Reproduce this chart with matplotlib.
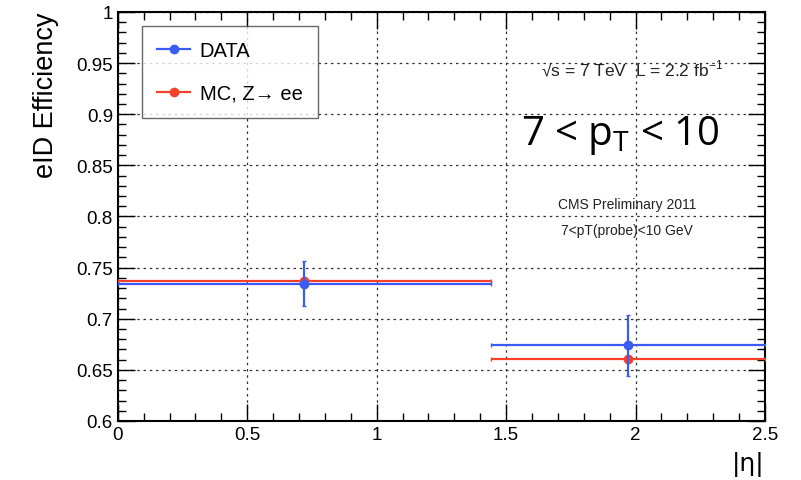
import matplotlib
matplotlib.use("Agg")
import matplotlib.pyplot as plt
from matplotlib.ticker import MultipleLocator, FuncFormatter
from matplotlib.lines import Line2D
import numpy as np

plt.rcParams['font.family'] = ['Liberation Sans', 'DejaVu Sans']

# eta bins
bin_lo = [0.0, 1.442]
bin_hi = [1.442, 2.5]
x_pts = [0.72, 1.97]

data_eff = [0.734, 0.674]
data_err = [0.022, 0.030]
mc_eff = [0.737, 0.661]
mc_err = [0.001, 0.001]

blue = '#3a5cf5'
red = '#f5402a'

fig = plt.figure(figsize=(8.01, 4.81), dpi=100)
ax = fig.add_axes([0.147, 0.1227, 0.808, 0.8503])

x = np.array(x_pts)
xerr = [x - np.array(bin_lo), np.array(bin_hi) - x]

ax.errorbar(x, mc_eff, yerr=mc_err, xerr=xerr, fmt='o', color=red, ms=6,
            lw=1.6, capsize=1.5, zorder=3)
ax.errorbar(x, data_eff, yerr=data_err, xerr=xerr, fmt='o', color=blue, ms=6,
            lw=1.6, capsize=1.5, zorder=4)

ax.set_xlim(0, 2.5)
ax.set_ylim(0.6, 1.0)
ax.xaxis.set_major_locator(MultipleLocator(0.5))
ax.xaxis.set_minor_locator(MultipleLocator(0.1))
ax.yaxis.set_major_locator(MultipleLocator(0.05))
ax.yaxis.set_minor_locator(MultipleLocator(0.01))
fmt = FuncFormatter(lambda v, p: ('%g' % round(v, 3)))
ax.xaxis.set_major_formatter(fmt)
ax.yaxis.set_major_formatter(fmt)
ax.tick_params(which='both', direction='in', top=True, right=True, labelsize=13.5)
ax.tick_params(which='major', length=12, width=1)
ax.tick_params(which='minor', length=6, width=1)
ax.grid(True, which='major', ls=(0, (2, 3)), color='#333333', lw=0.9)
for s in ax.spines.values():
    s.set_linewidth(1.5)

ax.set_ylabel('eID Efficiency', fontsize=19.5, loc='top', labelpad=12)
ax.set_xlabel('|η|', fontsize=18, loc='right', family=['DejaVu Sans'], labelpad=6)

handles = [Line2D([], [], color=blue, marker='o', ms=6, lw=1.6),
           Line2D([], [], color=red, marker='o', ms=6, lw=1.6)]
labels = ['DATA', 'MC, Z→ ee']
leg = ax.legend(handles, labels, loc='upper left',
                bbox_to_anchor=(0.038, 0.965), fontsize=14.5, frameon=True,
                fancybox=False, edgecolor='#444444', labelspacing=1.15,
                borderpad=0.75, handlelength=1.6, handletextpad=0.5,
                borderaxespad=0)
leg.get_frame().set_linewidth(1.0)

ax.text(0.795, 0.865, '√s = 7 TeV  L = 2.2 fb$^{\\mathregular{-1}}$',
        transform=ax.transAxes, fontsize=12.5, ha='center', va='center', color='#222222')
ax.text(0.776, 0.700, r'7 < p$_\mathregular{T}$ < 10', transform=ax.transAxes,
        fontsize=29, ha='center', va='center', family='Open Sans', color='black')
ax.text(0.787, 0.531, 'CMS Preliminary 2011', transform=ax.transAxes,
        fontsize=10, ha='center', va='center', color='#222222')
ax.text(0.787, 0.467, '7<pT(probe)<10 GeV', transform=ax.transAxes,
        fontsize=10, ha='center', va='center', color='#222222')

fig.savefig('out.png', dpi=100)
